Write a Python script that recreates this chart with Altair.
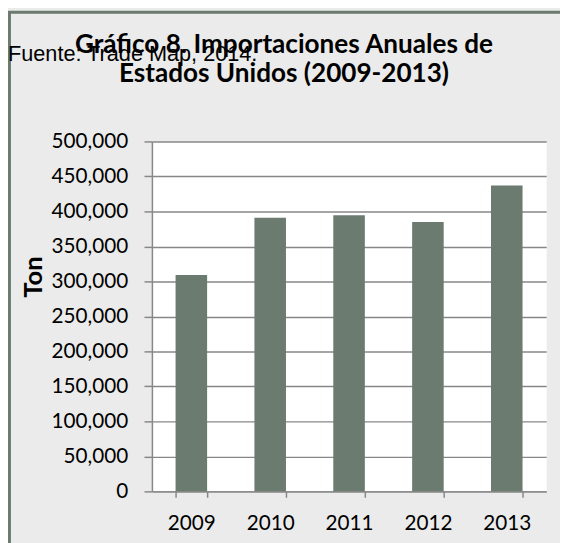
import altair as alt
import pandas as pd

years = ["2009", "2010", "2011", "2012", "2013"]
imports_ton = [309000, 391000, 394500, 385000, 437000]
title_lines = ["Gráfico 8. Importaciones Anuales de", "Estados Unidos (2009-2013)"]
source_note = ["Fuente: Trade Map, 2014."]
y_ticks = [0, 50000, 100000, 150000, 200000, 250000, 300000, 350000, 400000, 450000, 500000]

df = pd.DataFrame({"year": years, "ton": imports_ton})
note_df = pd.DataFrame({"note": source_note})

FONT = "Lato"
GRID = "#878787"
BAR = "#6b7b6f"

frame = alt.Chart(note_df).mark_rect(
    fillOpacity=0, stroke=BAR, strokeWidth=3
).encode(
    x=alt.value(-144.5), x2=alt.value(700),
    y=alt.value(-131), y2=alt.value(700),
)

bars = alt.Chart(df).mark_bar(color=BAR).encode(
    x=alt.X(
        "year:N",
        scale=alt.Scale(paddingInner=0.6, paddingOuter=0.3),
        axis=alt.Axis(
            title=None, labelAngle=0, tickBand="extent", tickSize=6,
            tickColor=GRID, tickWidth=1.5, domainColor=GRID, domainWidth=1.5,
            labelFont=FONT, labelFontSize=21, labelColor="#000000",
            labelPadding=16, grid=False,
        ),
    ),
    y=alt.Y(
        "ton:Q",
        scale=alt.Scale(domain=[0, 500000], nice=False),
        axis=alt.Axis(
            values=y_ticks, format=",.0f", title="Ton",
            titleFont=FONT, titleFontSize=26, titleFontWeight="bold",
            titleColor="#000000", titleX=-120, titleY=137,
            titleAlign="center", titleBaseline="middle", titleAngle=270,
            tickSize=8, tickColor=GRID, tickWidth=1.5,
            domainColor=GRID, domainWidth=1.5,
            gridColor=GRID, gridWidth=1.5,
            labelFont=FONT, labelFontSize=21, labelColor="#000000",
            labelPadding=16.5,
        ),
    ),
)

note = alt.Chart(note_df).mark_text(
    align="left", baseline="alphabetic", font="Liberation Sans",
    fontSize=22, color="#000000",
).encode(
    text="note:N", x=alt.value(-146), y=alt.value(-82),
)

chart = alt.layer(frame, bars, note).properties(
    width=400,
    height=355,
    title=alt.TitleParams(
        text=title_lines, anchor="middle", frame="group", orient="top",
        font=FONT, fontSize=26.5, fontWeight="bold", color="#000000",
        lineHeight=30, baseline="bottom", offset=0, dx=-66, dy=105,
    ),
    background="#eaebea",
    padding={"left": 146, "top": 131.5, "right": 14, "bottom": 48.5},
    autosize=alt.AutoSizeParams(type="none"),
).configure_view(fill="white", stroke="transparent")

chart.save("out.html", embed_options={"renderer": "svg", "actions": False})
